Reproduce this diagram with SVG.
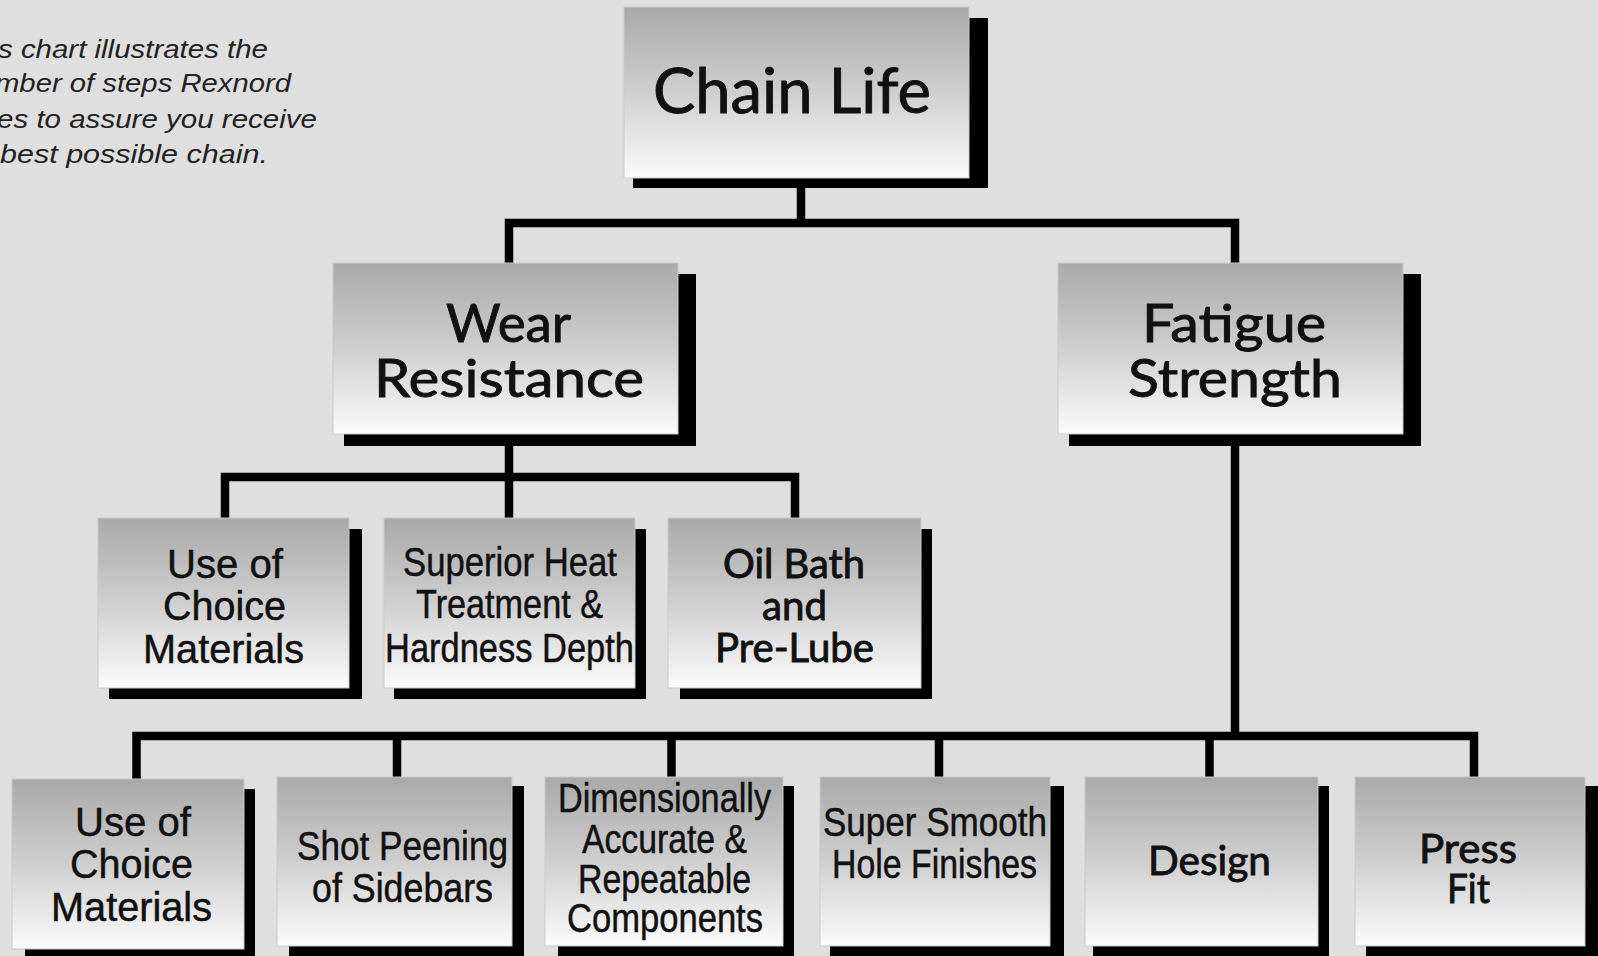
<svg xmlns="http://www.w3.org/2000/svg" width="1598" height="956" viewBox="0 0 1598 956">
<defs>
<linearGradient id="g" x1="0" y1="0" x2="0" y2="1">
<stop offset="0" stop-color="#a9a9a9"/>
<stop offset="0.5" stop-color="#cfcfcf"/>
<stop offset="1" stop-color="#fbfbfb"/>
</linearGradient>
<style>
.box{fill:url(#g);stroke:#cacaca;stroke-width:1}
.sh{fill:#000}
.h{font-family:Lato,"Open Sans",sans-serif;fill:#111;stroke:#111;stroke-width:0.9;text-anchor:middle}
.a{font-family:"Liberation Sans",Arial,sans-serif;fill:#111;stroke:#111;stroke-width:0.5;text-anchor:middle}
.c{font-family:"Liberation Sans",Arial,sans-serif;fill:#111;stroke:#111;stroke-width:0.5;text-anchor:middle}
.note{font-family:"Liberation Sans",Arial,sans-serif;font-style:italic;font-size:25px;fill:#222;text-anchor:end}
.ln{fill:none;stroke:#000;stroke-width:8.5;stroke-linejoin:miter;stroke-linecap:butt}
</style>
</defs>
<rect width="1598" height="956" fill="#dfdfdf"/>

<g id="note">
<text class="note" x="268" y="58" textLength="270" lengthAdjust="spacingAndGlyphs">s chart illustrates the</text>
<text class="note" x="291" y="92" textLength="296" lengthAdjust="spacingAndGlyphs">mber of steps Rexnord</text>
<text class="note" x="317" y="128" textLength="320" lengthAdjust="spacingAndGlyphs">es to assure you receive</text>
<text class="note" x="268" y="163" textLength="268" lengthAdjust="spacingAndGlyphs">best possible chain.</text>
</g>

<g id="connectors">
<path class="ln" d="M801,188 V223"/>
<path class="ln" d="M509,263 V223 H1235 V263"/>
<path class="ln" d="M509,446 V477"/>
<path class="ln" d="M225,518 V477 H795 V518"/>
<path class="ln" d="M509,477 V518"/>
<path class="ln" d="M1235,446 V736"/>
<path class="ln" d="M136.5,779 V736 H1474 V778"/>
<path class="ln" d="M397,736 V778"/>
<path class="ln" d="M671.5,736 V778"/>
<path class="ln" d="M939,736 V778"/>
<path class="ln" d="M1209.5,736 V778"/>
</g>

<g id="chain-life">
<rect class="sh" x="633" y="18" width="355" height="170"/>
<rect class="box" x="624" y="7" width="345" height="171"/>
<text class="h" x="792" y="113" font-size="62" textLength="278" lengthAdjust="spacingAndGlyphs">Chain Life</text>
</g>

<g id="wear-resistance">
<rect class="sh" x="344" y="274" width="352" height="172"/>
<rect class="box" x="333" y="263" width="345" height="171"/>
<text class="h" x="508.5" y="342" font-size="53" textLength="125" lengthAdjust="spacingAndGlyphs">Wear</text>
<text class="h" x="509" y="397" font-size="53" textLength="270" lengthAdjust="spacingAndGlyphs">Resistance</text>
</g>

<g id="fatigue-strength">
<rect class="sh" x="1069" y="274" width="352" height="172"/>
<rect class="box" x="1058" y="263" width="345" height="171"/>
<text class="h" x="1234" y="342" font-size="53" textLength="184" lengthAdjust="spacingAndGlyphs">Fatigue</text>
<text class="h" x="1235" y="397" font-size="53" textLength="214" lengthAdjust="spacingAndGlyphs">Strength</text>
</g>

<g id="wr-materials">
<rect class="sh" x="109" y="529" width="253" height="170"/>
<rect class="box" x="98" y="518" width="251" height="170"/>
<text class="a" x="225" y="578" font-size="41" textLength="116" lengthAdjust="spacingAndGlyphs">Use of</text>
<text class="a" x="224.5" y="620" font-size="41" textLength="123" lengthAdjust="spacingAndGlyphs">Choice</text>
<text class="a" x="223.5" y="663" font-size="41" textLength="161" lengthAdjust="spacingAndGlyphs">Materials</text>
</g>

<g id="heat-treatment">
<rect class="sh" x="394" y="529" width="252" height="170"/>
<rect class="box" x="384" y="518" width="251" height="170"/>
<text class="c" x="510" y="576" font-size="40" textLength="214" lengthAdjust="spacingAndGlyphs">Superior Heat</text>
<text class="c" x="509.5" y="618" font-size="40" textLength="187" lengthAdjust="spacingAndGlyphs">Treatment &amp;</text>
<text class="c" x="509.5" y="662" font-size="40" textLength="249" lengthAdjust="spacingAndGlyphs">Hardness Depth</text>
</g>

<g id="oil-bath">
<rect class="sh" x="680" y="529" width="252" height="170"/>
<rect class="box" x="668" y="518" width="253" height="170"/>
<text class="h" x="794" y="578" font-size="40" textLength="142" lengthAdjust="spacingAndGlyphs">Oil Bath</text>
<text class="h" x="794.5" y="620" font-size="40" textLength="65" lengthAdjust="spacingAndGlyphs">and</text>
<text class="h" x="794.5" y="662" font-size="40" textLength="159" lengthAdjust="spacingAndGlyphs">Pre-Lube</text>
</g>

<g id="fs-materials">
<rect class="sh" x="25" y="789" width="230" height="180"/>
<rect class="box" x="12" y="779" width="232" height="170"/>
<text class="a" x="133" y="836" font-size="41" textLength="116" lengthAdjust="spacingAndGlyphs">Use of</text>
<text class="a" x="131.5" y="878" font-size="41" textLength="123" lengthAdjust="spacingAndGlyphs">Choice</text>
<text class="a" x="131.5" y="921" font-size="41" textLength="161" lengthAdjust="spacingAndGlyphs">Materials</text>
</g>

<g id="shot-peening">
<rect class="sh" x="289" y="786" width="235" height="180"/>
<rect class="box" x="277" y="777" width="235" height="169"/>
<text class="c" x="402.5" y="860" font-size="40" textLength="211" lengthAdjust="spacingAndGlyphs">Shot Peening</text>
<text class="c" x="402.5" y="902" font-size="40" textLength="181" lengthAdjust="spacingAndGlyphs">of Sidebars</text>
</g>

<g id="dimensional">
<rect class="sh" x="558" y="786" width="236" height="180"/>
<rect class="box" x="545" y="777" width="238" height="169"/>
<text class="c" x="664.5" y="812" font-size="40" textLength="213" lengthAdjust="spacingAndGlyphs">Dimensionally</text>
<text class="c" x="664.5" y="853" font-size="40" textLength="165" lengthAdjust="spacingAndGlyphs">Accurate &amp;</text>
<text class="c" x="664.5" y="893" font-size="40" textLength="173" lengthAdjust="spacingAndGlyphs">Repeatable</text>
<text class="c" x="665" y="932" font-size="40" textLength="196" lengthAdjust="spacingAndGlyphs">Components</text>
</g>

<g id="hole-finishes">
<rect class="sh" x="830" y="786" width="234" height="180"/>
<rect class="box" x="820" y="777" width="230" height="169"/>
<text class="c" x="935" y="836" font-size="40" textLength="224" lengthAdjust="spacingAndGlyphs">Super Smooth</text>
<text class="c" x="934.5" y="878" font-size="40" textLength="205" lengthAdjust="spacingAndGlyphs">Hole Finishes</text>
</g>

<g id="design">
<rect class="sh" x="1093" y="786" width="236" height="180"/>
<rect class="box" x="1085" y="777" width="233" height="169"/>
<text class="h" x="1209.5" y="875" font-size="41" textLength="123" lengthAdjust="spacingAndGlyphs">Design</text>
</g>

<g id="press-fit">
<rect class="sh" x="1366" y="786" width="240" height="180"/>
<rect class="box" x="1355" y="777" width="230" height="169"/>
<text class="h" x="1468" y="863" font-size="41" textLength="98" lengthAdjust="spacingAndGlyphs">Press</text>
<text class="h" x="1468.5" y="903" font-size="41" textLength="43" lengthAdjust="spacingAndGlyphs">Fit</text>
</g>
</svg>
